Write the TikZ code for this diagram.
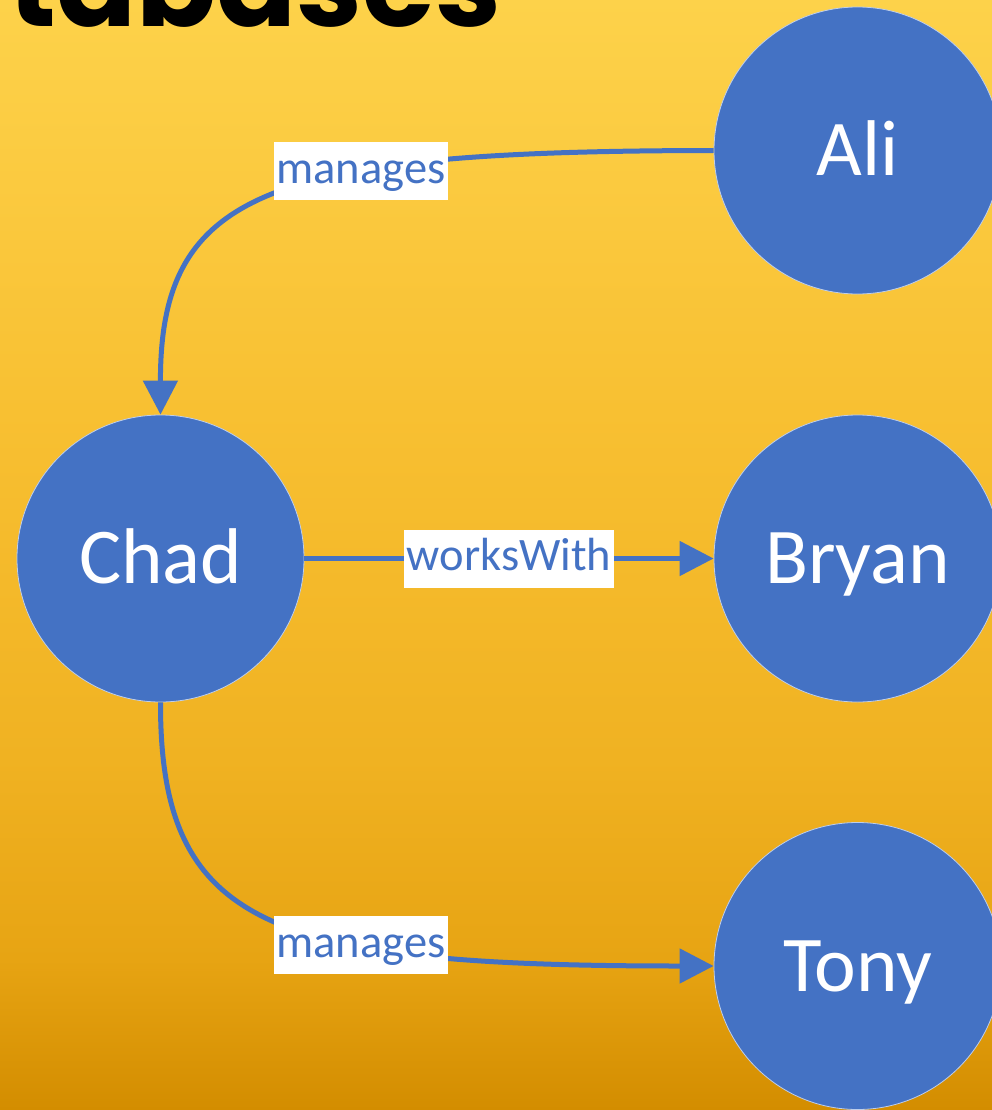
\documentclass[tikz,border=0pt]{standalone}
\usepackage{fontspec}
\setmainfont{Carlito}
\newfontfamily\titlefont{Poppins}
\usetikzlibrary{arrows.meta}

\definecolor{nodeblue}{RGB}{68,114,196}
\definecolor{bgA}{RGB}{253,210,74}
\definecolor{bgB}{RGB}{248,192,50}
\definecolor{bgC}{RGB}{240,178,34}
\definecolor{bgD}{RGB}{231,164,19}
\definecolor{bgE}{RGB}{211,141,0}

% warm yellow panel, darkening towards the bottom
\pgfdeclareverticalshading{panel}{100bp}{%
  color(0bp)=(bgE); color(25bp)=(bgE); color(31.8bp)=(bgD);
  color(40.8bp)=(bgC); color(56.5bp)=(bgB); color(75bp)=(bgA);
  color(100bp)=(bgA)}

\tikzset{
  person/.style={circle, fill=nodeblue, draw=nodeblue!35!white, line width=0.8pt,
    minimum size=287pt, inner sep=0pt, text=white,
    font=\fontsize{79}{90}\selectfont, text height=50pt, text depth=0pt},
  rel/.style={draw=nodeblue, line width=5pt, -{Triangle[length=34pt,width=34pt]}},
  tag/.style={fill=white, text=nodeblue, font=\fontsize{46.5}{50}\selectfont,
    inner xsep=2.5pt, inner ysep=0pt, minimum height=58pt,
    text height=35pt, text depth=11.5pt}
}

\begin{document}
\begin{tikzpicture}[x=1pt,y=-1pt]
  \useasboundingbox (0,0) rectangle (992,1110);
  \clip (0,0) rectangle (992,1110);
  \fill[shading=panel] (0,0) rectangle (992,1110);

  % heading, running off the top edge
  \node[anchor=base west, inner sep=0pt,
        font=\titlefont\bfseries\fontsize{118}{126}\selectfont] (title) at (8,27) {tabases};

  % people
  \node[person] (Ali)   at (857.5,150.5) {Ali};
  \node[person] (Chad)  at (160.5,558.5) {Chad};
  \node[person] (Bryan) at (857.5,558.5) {Bryan};
  \node[person] (Tony)  at (857.5,966)   {Tony};

  % relationships
  \draw[rel] (Ali.west) .. controls (270,151) and (160,190) ..
    node[tag, pos=0.35] {manages} (Chad.north);
  \draw[rel] (Chad) -- node[tag] {worksWith} (Bryan);
  \draw[rel] (Chad.south) .. controls (160,927) and (270,966) ..
    node[tag, pos=0.65] {manages} (Tony.west);
\end{tikzpicture}
\end{document}
